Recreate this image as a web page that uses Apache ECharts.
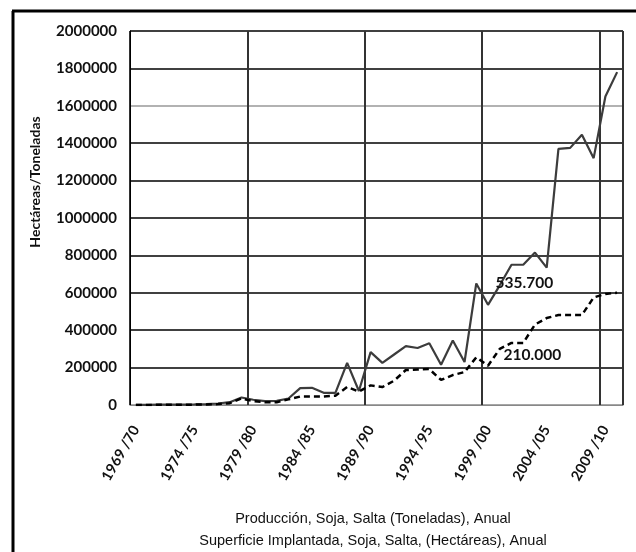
<!DOCTYPE html>
<html>
<head>
<meta charset="utf-8">
<script src="https://cdn.jsdelivr.net/npm/echarts@6/dist/echarts.min.js"></script>
<style>
html,body{margin:0;padding:0;background:#fff;}
#chart{width:636px;height:552px;}
</style>
</head>
<body>
<div id="chart"></div>
<script>
const categories = [
  "1969 /70","1970 /71","1971 /72","1972 /73","1973 /74","1974 /75","1975 /76","1976 /77",
  "1977 /78","1978 /79","1979 /80","1980 /81","1981 /82","1982 /83","1983 /84","1984 /85",
  "1985 /86","1986 /87","1987 /88","1988 /89","1989 /90","1990 /91","1991 /92","1992 /93",
  "1993 /94","1994 /95","1995 /96","1996 /97","1997 /98","1998 /99","1999 /00","2000 /01",
  "2001 /02","2002 /03","2003 /04","2004 /05","2005 /06","2006 /07","2007 /08","2008 /09",
  "2009 /10","2010 /11"
];
const produccion = [
  1000, 1000, 1500, 2000, 2500, 3000, 5000, 8000,
  15000, 40000, 28000, 21000, 22000, 35000, 90000, 92000,
  65000, 65000, 225000, 75000, 283000, 225000, 270000, 315000,
  305000, 330000, 215000, 345000, 230000, 650000, 535700, 640000,
  750000, 750000, 815000, 735000, 1370000, 1375000, 1445000, 1320000,
  1650000, 1780000
];
const superficie = [
  500, 500, 800, 1000, 1500, 2000, 3000, 5000,
  10000, 35000, 20000, 15000, 15000, 30000, 45000, 45000,
  45000, 50000, 96000, 72000, 105000, 96000, 130000, 187000,
  190000, 192000, 134000, 160000, 176000, 255000, 210000, 300000,
  332000, 332000, 430000, 465000, 481000, 481000, 481000, 575000,
  594000, 600000
];
const yTicks = { min: 0, max: 2000000, interval: 200000 };
const legendLines = [
  "Producción, Soja, Salta (Toneladas), Anual",
  "Superficie Implantada, Soja, Salta, (Hectáreas), Anual"
];
const annotIndex = 30;
const annotProd = "535.700";
const annotSup = "210.000";

const chart = echarts.init(document.getElementById('chart'), null, {renderer: 'canvas'});
const splitColors = ['#888','#000','#000','#000','#000','#000','#000','#000','#999','#000','#000'];

chart.setOption({
  backgroundColor: '#fff',
  animation: false,
  title: {
    text: legendLines.join('\n'),
    left: 368,
    top: 503,
    textAlign: 'center',
    textStyle: {
      fontFamily: '"Liberation Sans Narrow", "Liberation Sans", sans-serif',
      fontSize: 14.5,
      fontWeight: 'normal',
      color: '#111',
      lineHeight: 22
    }
  },
  graphic: [
    { type: 'line', shape: {x1: 12, y1: 11, x2: 636, y2: 11}, style: {stroke: '#000', lineWidth: 3} },
    { type: 'line', shape: {x1: 13, y1: 11, x2: 13, y2: 552}, style: {stroke: '#000', lineWidth: 3} }
  ],
  grid: { left: 130, right: 13, top: 31, bottom: 147, containLabel: false },
  xAxis: {
    type: 'category',
    data: categories,
    boundaryGap: true,
    axisLine: { show: true, lineStyle: { color: '#888', width: 1 } },
    axisTick: { show: false },
    axisLabel: {
      interval: 4,
      rotate: 60,
      margin: 22,
      fontFamily: 'Lato, sans-serif',
      fontSize: 14.5,
      fontWeight: 'bold',
      color: '#111'
    },
    splitLine: { show: true, interval: 9, lineStyle: { color: '#333', width: 2 } }
  },
  yAxis: {
    type: 'value',
    min: yTicks.min,
    max: yTicks.max,
    interval: yTicks.interval,
    name: 'Hectáreas/Toneladas',
    nameLocation: 'middle',
    nameGap: 88,
    nameTextStyle: {
      fontFamily: 'Lato, sans-serif',
      fontSize: 14,
      fontWeight: 'bold',
      color: '#111',
      padding: [0, 0, 0, 72]
    },
    axisLine: { show: true, lineStyle: { color: '#000', width: 1 } },
    axisTick: { show: false },
    axisLabel: {
      margin: 13,
      formatter: function (v) { return String(v); },
      fontFamily: 'Lato, sans-serif',
      fontSize: 15,
      fontWeight: 'bold',
      color: '#111'
    },
    splitLine: { show: true, lineStyle: { color: splitColors, width: 1.5 } }
  },
  series: [
    {
      name: legendLines[0],
      type: 'line',
      data: produccion,
      showSymbol: false,
      lineStyle: { color: '#3c3c3c', width: 2.2 },
      itemStyle: { color: '#3c3c3c' },
      markPoint: {
        symbol: 'circle',
        symbolSize: 1,
        itemStyle: { color: 'rgba(0,0,0,0)' },
        label: {
          show: true,
          formatter: annotProd,
          position: 'right',
          offset: [2, -22],
          fontFamily: 'Lato, sans-serif',
          fontSize: 15.5,
          fontWeight: 'bold',
          color: '#111'
        },
        data: [{ coord: [categories[annotIndex], produccion[annotIndex]] }]
      }
    },
    {
      name: legendLines[1],
      type: 'line',
      data: superficie,
      showSymbol: false,
      lineStyle: { color: '#000', width: 2.5, type: [6, 4] },
      itemStyle: { color: '#000' },
      markPoint: {
        symbol: 'circle',
        symbolSize: 1,
        itemStyle: { color: 'rgba(0,0,0,0)' },
        label: {
          show: true,
          formatter: annotSup,
          position: 'right',
          offset: [10, -11],
          fontFamily: 'Lato, sans-serif',
          fontSize: 15.5,
          fontWeight: 'bold',
          color: '#111'
        },
        data: [{ coord: [categories[annotIndex], superficie[annotIndex]] }]
      }
    }
  ]
});
</script>
</body>
</html>
